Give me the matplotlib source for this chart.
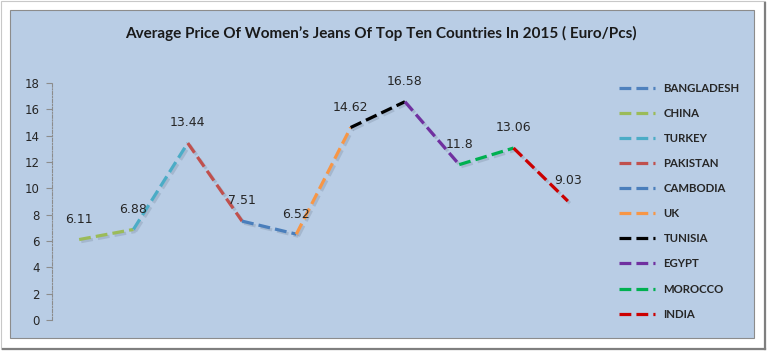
import matplotlib
matplotlib.use("Agg")
import matplotlib.pyplot as plt
from matplotlib.patches import Rectangle
from matplotlib.lines import Line2D
import matplotlib.patheffects as pe

countries = ["BANGLADESH", "CHINA", "TURKEY", "PAKISTAN", "CAMBODIA",
             "UK", "TUNISIA", "EGYPT", "MOROCCO", "INDIA"]
prices = [6.11, 6.88, 13.44, 7.51, 6.52, 14.62, 16.58, 11.8, 13.06, 9.03]
colors = ["#4F81BD", "#9BBB59", "#4BACC6", "#C0504D", "#4A7EBB",
          "#F79646", "#000000", "#7030A0", "#00B050", "#CC0000"]
yticks = [0, 2, 4, 6, 8, 10, 12, 14, 16, 18]
title = "Average Price Of Women\u2019s Jeans Of Top Ten Countries In 2015 ( Euro/Pcs)"

W, H = 768, 353
fig = plt.figure(figsize=(W / 100, H / 100), dpi=100)
fig.patch.set_facecolor("white")

def fx(x):
    return x / W

def fy(y):
    return 1 - y / H

# outer frame
fig.patches.append(Rectangle((fx(1), fy(349)), fx(764), 348 / H, transform=fig.transFigure,
                             facecolor="white", edgecolor="#C8C8C8", lw=0.8, zorder=-3))
fig.add_artist(Line2D([fx(765), fx(765)], [fy(3), fy(349)], transform=fig.transFigure,
                      color="#7F7F7F", lw=1.6, zorder=-2))
fig.add_artist(Line2D([fx(3), fx(765)], [fy(349), fy(349)], transform=fig.transFigure,
                      color="#7F7F7F", lw=1.6, zorder=-2))
# blue panel
fig.patches.append(Rectangle((fx(10), fy(338)), fx(744), 328 / H, transform=fig.transFigure,
                             facecolor="#B9CDE5", edgecolor="#8C8C8C", lw=0.8, zorder=-1))

fig.text(fx(381), fy(33), title, ha="center", va="center", fontsize=11,
         family="Lato", weight="bold", color="#1A1A1A")

ax = fig.add_axes([fx(52), fy(320), fx(595 - 52), (320 - 83) / H])
ax.set_facecolor("none")
x = list(range(1, len(prices) + 1))
for i, (name, col) in enumerate(zip(countries, colors)):
    s = max(0, i - 1)
    ax.plot(x[s:i + 1], prices[s:i + 1], color=col, lw=2.3, ls="--",
            dash_capstyle="butt", label=name,
            path_effects=[pe.SimpleLineShadow(offset=(1.5, -1.5), shadow_color="#5A6A80", alpha=0.22),
                          pe.Normal()])

for xi, v in zip(x, prices):
    ax.annotate(f"{v:g}", (xi, v), xytext=(0, 14.5), textcoords="offset points",
                ha="center", va="center", fontsize=9, color="#262626")

ax.set_xlim(0.5, len(prices) + 0.5)
ax.set_ylim(0, 18)
ax.set_yticks(yticks)
ax.set_xticks([])
for sp in ["top", "right", "bottom"]:
    ax.spines[sp].set_visible(False)
ax.spines["left"].set_color("#8C8C8C")
ax.spines["left"].set_linestyle((0, (3, 1.5, 1, 1.5)))
ax.spines["left"].set_linewidth(0.8)
ax.tick_params(axis="y", direction="out", length=4, color="#8C8C8C", labelsize=8.5,
               labelcolor="#262626", pad=5)

leg_handles = [Line2D([], [], color=c, lw=2.3, ls="--") for c in colors]
fig.legend(leg_handles, countries, loc="upper left", bbox_to_anchor=(fx(619), fy(83)),
           frameon=False, prop={"family": "Lato", "weight": "bold", "size": 8.2},
           handlelength=3.2, handletextpad=0.7, labelspacing=1.235, borderpad=0,
           borderaxespad=0, labelcolor="#262626")

fig.savefig("out.png", dpi=100, facecolor="white")
